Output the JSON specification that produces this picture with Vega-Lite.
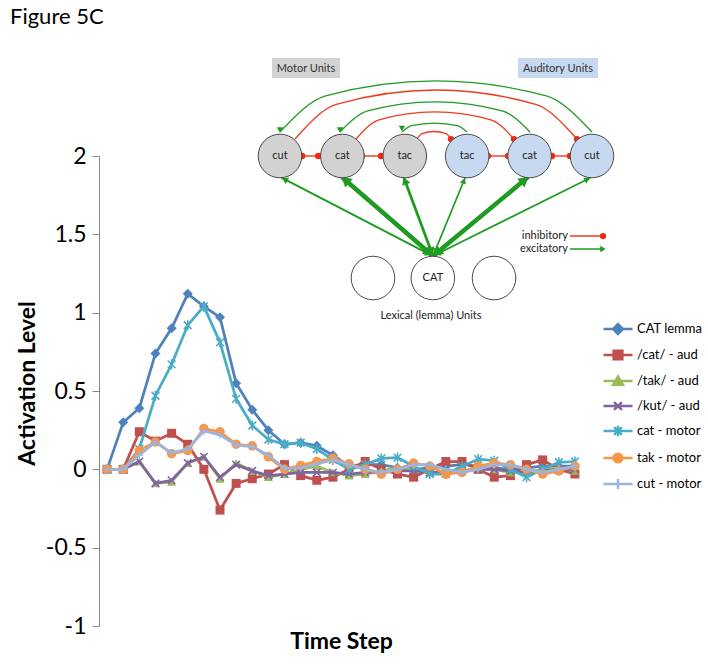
{
  "$schema": "https://vega.github.io/schema/vega-lite/v6.json",
  "width": 484,
  "height": 470,
  "autosize": {"type": "none"},
  "padding": {"left": 99, "top": 156, "right": 125, "bottom": 44},
  "title": {"text": "Figure 5C", "anchor": "start", "frame": "group", "font": "Lato", "fontSize": 22, "fontWeight": "normal", "color": "#000000", "dx": -89, "dy": -25, "offset": 4},
  "config": {"view": {"stroke": null}, "font": "Lato"},
  "resolve": {"scale": {"x": "independent", "y": "independent"}},
  "layer": [
    {
      "data": {"values": [
        {"series":"CAT lemma","step":1,"value":0},{"series":"CAT lemma","step":2,"value":0.30},{"series":"CAT lemma","step":3,"value":0.39},{"series":"CAT lemma","step":4,"value":0.74},{"series":"CAT lemma","step":5,"value":0.90},{"series":"CAT lemma","step":6,"value":1.12},{"series":"CAT lemma","step":7,"value":1.04},{"series":"CAT lemma","step":8,"value":0.97},{"series":"CAT lemma","step":9,"value":0.55},{"series":"CAT lemma","step":10,"value":0.38},{"series":"CAT lemma","step":11,"value":0.25},{"series":"CAT lemma","step":12,"value":0.16},{"series":"CAT lemma","step":13,"value":0.17},{"series":"CAT lemma","step":14,"value":0.15},{"series":"CAT lemma","step":15,"value":0.09},{"series":"CAT lemma","step":16,"value":0.02},{"series":"CAT lemma","step":17,"value":0.03},{"series":"CAT lemma","step":18,"value":0.03},{"series":"CAT lemma","step":19,"value":0.01},{"series":"CAT lemma","step":20,"value":0.0},{"series":"CAT lemma","step":21,"value":0.01},{"series":"CAT lemma","step":22,"value":0.02},{"series":"CAT lemma","step":23,"value":0.03},{"series":"CAT lemma","step":24,"value":0.02},{"series":"CAT lemma","step":25,"value":0.01},{"series":"CAT lemma","step":26,"value":0.0},{"series":"CAT lemma","step":27,"value":0.01},{"series":"CAT lemma","step":28,"value":0.02},{"series":"CAT lemma","step":29,"value":0.02},{"series":"CAT lemma","step":30,"value":0.02},
        {"series":"/cat/ - aud","step":1,"value":0},{"series":"/cat/ - aud","step":2,"value":0},{"series":"/cat/ - aud","step":3,"value":0.24},{"series":"/cat/ - aud","step":4,"value":0.18},{"series":"/cat/ - aud","step":5,"value":0.23},{"series":"/cat/ - aud","step":6,"value":0.16},{"series":"/cat/ - aud","step":7,"value":0.0},{"series":"/cat/ - aud","step":8,"value":-0.26},{"series":"/cat/ - aud","step":9,"value":-0.09},{"series":"/cat/ - aud","step":10,"value":-0.06},{"series":"/cat/ - aud","step":11,"value":-0.03},{"series":"/cat/ - aud","step":12,"value":0.03},{"series":"/cat/ - aud","step":13,"value":-0.04},{"series":"/cat/ - aud","step":14,"value":-0.07},{"series":"/cat/ - aud","step":15,"value":-0.05},{"series":"/cat/ - aud","step":16,"value":0.0},{"series":"/cat/ - aud","step":17,"value":0.05},{"series":"/cat/ - aud","step":18,"value":0.0},{"series":"/cat/ - aud","step":19,"value":-0.03},{"series":"/cat/ - aud","step":20,"value":-0.05},{"series":"/cat/ - aud","step":21,"value":0.0},{"series":"/cat/ - aud","step":22,"value":0.05},{"series":"/cat/ - aud","step":23,"value":0.05},{"series":"/cat/ - aud","step":24,"value":0.0},{"series":"/cat/ - aud","step":25,"value":-0.05},{"series":"/cat/ - aud","step":26,"value":-0.04},{"series":"/cat/ - aud","step":27,"value":0.03},{"series":"/cat/ - aud","step":28,"value":0.06},{"series":"/cat/ - aud","step":29,"value":0.0},{"series":"/cat/ - aud","step":30,"value":-0.03},
        {"series":"/tak/ - aud","step":1,"value":0},{"series":"/tak/ - aud","step":2,"value":0},{"series":"/tak/ - aud","step":3,"value":0.05},{"series":"/tak/ - aud","step":4,"value":-0.09},{"series":"/tak/ - aud","step":5,"value":-0.08},{"series":"/tak/ - aud","step":6,"value":0.04},{"series":"/tak/ - aud","step":7,"value":0.08},{"series":"/tak/ - aud","step":8,"value":-0.06},{"series":"/tak/ - aud","step":9,"value":0.04},{"series":"/tak/ - aud","step":10,"value":-0.01},{"series":"/tak/ - aud","step":11,"value":-0.05},{"series":"/tak/ - aud","step":12,"value":-0.03},{"series":"/tak/ - aud","step":13,"value":0.0},{"series":"/tak/ - aud","step":14,"value":0.02},{"series":"/tak/ - aud","step":15,"value":-0.02},{"series":"/tak/ - aud","step":16,"value":-0.04},{"series":"/tak/ - aud","step":17,"value":-0.03},{"series":"/tak/ - aud","step":18,"value":-0.01},{"series":"/tak/ - aud","step":19,"value":0.01},{"series":"/tak/ - aud","step":20,"value":0.0},{"series":"/tak/ - aud","step":21,"value":-0.02},{"series":"/tak/ - aud","step":22,"value":-0.03},{"series":"/tak/ - aud","step":23,"value":-0.01},{"series":"/tak/ - aud","step":24,"value":0.01},{"series":"/tak/ - aud","step":25,"value":0.0},{"series":"/tak/ - aud","step":26,"value":-0.02},{"series":"/tak/ - aud","step":27,"value":-0.02},{"series":"/tak/ - aud","step":28,"value":0.0},{"series":"/tak/ - aud","step":29,"value":0.01},{"series":"/tak/ - aud","step":30,"value":-0.01},
        {"series":"/kut/ - aud","step":1,"value":0},{"series":"/kut/ - aud","step":2,"value":0},{"series":"/kut/ - aud","step":3,"value":0.05},{"series":"/kut/ - aud","step":4,"value":-0.09},{"series":"/kut/ - aud","step":5,"value":-0.07},{"series":"/kut/ - aud","step":6,"value":0.04},{"series":"/kut/ - aud","step":7,"value":0.08},{"series":"/kut/ - aud","step":8,"value":-0.05},{"series":"/kut/ - aud","step":9,"value":0.03},{"series":"/kut/ - aud","step":10,"value":-0.01},{"series":"/kut/ - aud","step":11,"value":-0.04},{"series":"/kut/ - aud","step":12,"value":-0.03},{"series":"/kut/ - aud","step":13,"value":-0.02},{"series":"/kut/ - aud","step":14,"value":-0.02},{"series":"/kut/ - aud","step":15,"value":-0.02},{"series":"/kut/ - aud","step":16,"value":-0.03},{"series":"/kut/ - aud","step":17,"value":-0.02},{"series":"/kut/ - aud","step":18,"value":-0.02},{"series":"/kut/ - aud","step":19,"value":-0.01},{"series":"/kut/ - aud","step":20,"value":-0.01},{"series":"/kut/ - aud","step":21,"value":-0.02},{"series":"/kut/ - aud","step":22,"value":-0.02},{"series":"/kut/ - aud","step":23,"value":-0.01},{"series":"/kut/ - aud","step":24,"value":0.0},{"series":"/kut/ - aud","step":25,"value":0.0},{"series":"/kut/ - aud","step":26,"value":-0.01},{"series":"/kut/ - aud","step":27,"value":-0.02},{"series":"/kut/ - aud","step":28,"value":-0.01},{"series":"/kut/ - aud","step":29,"value":0.0},{"series":"/kut/ - aud","step":30,"value":0.0},
        {"series":"cat - motor","step":1,"value":0},{"series":"cat - motor","step":2,"value":0},{"series":"cat - motor","step":3,"value":0.13},{"series":"cat - motor","step":4,"value":0.47},{"series":"cat - motor","step":5,"value":0.67},{"series":"cat - motor","step":6,"value":0.92},{"series":"cat - motor","step":7,"value":1.04},{"series":"cat - motor","step":8,"value":0.81},{"series":"cat - motor","step":9,"value":0.45},{"series":"cat - motor","step":10,"value":0.28},{"series":"cat - motor","step":11,"value":0.19},{"series":"cat - motor","step":12,"value":0.16},{"series":"cat - motor","step":13,"value":0.17},{"series":"cat - motor","step":14,"value":0.13},{"series":"cat - motor","step":15,"value":0.06},{"series":"cat - motor","step":16,"value":0.0},{"series":"cat - motor","step":17,"value":0.03},{"series":"cat - motor","step":18,"value":0.07},{"series":"cat - motor","step":19,"value":0.075},{"series":"cat - motor","step":20,"value":0.02},{"series":"cat - motor","step":21,"value":-0.03},{"series":"cat - motor","step":22,"value":-0.03},{"series":"cat - motor","step":23,"value":0.02},{"series":"cat - motor","step":24,"value":0.065},{"series":"cat - motor","step":25,"value":0.055},{"series":"cat - motor","step":26,"value":0.0},{"series":"cat - motor","step":27,"value":-0.05},{"series":"cat - motor","step":28,"value":0.0},{"series":"cat - motor","step":29,"value":0.045},{"series":"cat - motor","step":30,"value":0.05},
        {"series":"tak - motor","step":1,"value":0},{"series":"tak - motor","step":2,"value":0},{"series":"tak - motor","step":3,"value":0.12},{"series":"tak - motor","step":4,"value":0.175},{"series":"tak - motor","step":5,"value":0.10},{"series":"tak - motor","step":6,"value":0.12},{"series":"tak - motor","step":7,"value":0.26},{"series":"tak - motor","step":8,"value":0.24},{"series":"tak - motor","step":9,"value":0.16},{"series":"tak - motor","step":10,"value":0.15},{"series":"tak - motor","step":11,"value":0.08},{"series":"tak - motor","step":12,"value":0.0},{"series":"tak - motor","step":13,"value":0.025},{"series":"tak - motor","step":14,"value":0.05},{"series":"tak - motor","step":15,"value":0.07},{"series":"tak - motor","step":16,"value":0.035},{"series":"tak - motor","step":17,"value":0.0},{"series":"tak - motor","step":18,"value":-0.03},{"series":"tak - motor","step":19,"value":0.0},{"series":"tak - motor","step":20,"value":0.04},{"series":"tak - motor","step":21,"value":0.02},{"series":"tak - motor","step":22,"value":-0.03},{"series":"tak - motor","step":23,"value":-0.02},{"series":"tak - motor","step":24,"value":0.02},{"series":"tak - motor","step":25,"value":0.04},{"series":"tak - motor","step":26,"value":0.03},{"series":"tak - motor","step":27,"value":0.0},{"series":"tak - motor","step":28,"value":-0.03},{"series":"tak - motor","step":29,"value":-0.01},{"series":"tak - motor","step":30,"value":0.02},
        {"series":"cut - motor","step":1,"value":0},{"series":"cut - motor","step":2,"value":0},{"series":"cut - motor","step":3,"value":0.09},{"series":"cut - motor","step":4,"value":0.175},{"series":"cut - motor","step":5,"value":0.105},{"series":"cut - motor","step":6,"value":0.13},{"series":"cut - motor","step":7,"value":0.245},{"series":"cut - motor","step":8,"value":0.22},{"series":"cut - motor","step":9,"value":0.155},{"series":"cut - motor","step":10,"value":0.145},{"series":"cut - motor","step":11,"value":0.09},{"series":"cut - motor","step":12,"value":0.005},{"series":"cut - motor","step":13,"value":0.01},{"series":"cut - motor","step":14,"value":0.035},{"series":"cut - motor","step":15,"value":0.06},{"series":"cut - motor","step":16,"value":0.03},{"series":"cut - motor","step":17,"value":0.0},{"series":"cut - motor","step":18,"value":-0.02},{"series":"cut - motor","step":19,"value":0.0},{"series":"cut - motor","step":20,"value":0.03},{"series":"cut - motor","step":21,"value":0.03},{"series":"cut - motor","step":22,"value":0.0},{"series":"cut - motor","step":23,"value":-0.02},{"series":"cut - motor","step":24,"value":0.0},{"series":"cut - motor","step":25,"value":0.03},{"series":"cut - motor","step":26,"value":0.03},{"series":"cut - motor","step":27,"value":0.0},{"series":"cut - motor","step":28,"value":-0.02},{"series":"cut - motor","step":29,"value":0.0},{"series":"cut - motor","step":30,"value":0.02}
      ]},
      "encoding": {
        "x": {"field": "step", "type": "quantitative", "scale": {"domain": [0.5, 30.5], "nice": false, "zero": false},
              "axis": {"title": "Time Step", "labels": false, "ticks": false, "domain": false, "grid": false, "titleFont": "Lato", "titleFontSize": 23, "titleFontWeight": "bold", "titleColor": "#000000", "titlePadding": 4}},
        "y": {"field": "value", "type": "quantitative", "scale": {"domain": [-1, 2], "nice": false, "zero": false},
              "axis": {"title": "Activation Level", "values": [-1, -0.5, 0, 0.5, 1, 1.5, 2], "labelExpr": "'' + datum.value", "grid": false, "domainColor": "#868686", "tickColor": "#868686", "tickSize": 7, "labelFont": "Lato", "labelFontSize": 23, "labelColor": "#000000", "labelPadding": 6, "titleFont": "Lato", "titleFontSize": 23, "titleFontWeight": "bold", "titleColor": "#000000", "titlePadding": 6, "titleY": 227}},
        "color": {"field": "series", "type": "nominal", "legend": null,
                  "scale": {"domain": ["CAT lemma", "/cat/ - aud", "/tak/ - aud", "/kut/ - aud", "cat - motor", "tak - motor", "cut - motor"], "range": ["#4F81BD", "#C0504D", "#9BBB59", "#8064A2", "#4BACC6", "#F79646", "#9DB4DC"]}}
      },
      "layer": [
        {
          "data": {"values": [{}]},
          "mark": {"type": "rule", "color": "#868686", "strokeWidth": 1},
          "encoding": {"y": {"datum": 0, "type": "quantitative"}, "x": null, "color": null}
        },
        {
          "transform": [{"filter": {"field": "series", "equal": "CAT lemma"}}],
          "mark": {"type": "line", "strokeWidth": 2.75, "strokeJoin": "round", "strokeCap": "round"},
          "encoding": {
            "color": {"field": "series", "type": "nominal",
                      "legend": {"title": null, "orient": "none", "legendX": 503, "legendY": 157, "labelFont": "Lato", "labelFontSize": 13, "labelColor": "#000000", "symbolSize": 841, "labelOffset": 3, "rowPadding": 0,
                        "encode": {"symbols": {"update": {
                          "shape": {"signal": "['M-1,0H1M0,-0.34L0.34,0L0,0.34L-0.34,0Z','M-1,0H1M-0.3,-0.3H0.3V0.3H-0.3Z','M-1,0H1M0,-0.32L0.34,0.26L-0.34,0.26Z','M-1,0H1M-0.27,-0.27L0.27,0.27M-0.27,0.27L0.27,-0.27','M-1,0H1M-0.27,-0.27L0.27,0.27M-0.27,0.27L0.27,-0.27M0,-0.36V0.36','M-1,0H1M-0.3,0A0.3,0.3,0,1,0,0.3,0A0.3,0.3,0,1,0,-0.3,0Z','M-1,0H1M0,-0.34V0.34'][indexof(['CAT lemma','/cat/ - aud','/tak/ - aud','/kut/ - aud','cat - motor','tak - motor','cut - motor'], datum.value)]"},
                          "fill": {"scale": "color", "field": "value"},
                          "stroke": {"scale": "color", "field": "value"},
                          "strokeWidth": {"value": 2.5},
                          "opacity": {"value": 1}
                        }}}}}
          }
        },
        {
          "transform": [{"filter": {"field": "series", "equal": "CAT lemma"}}],
          "mark": {"type": "point", "shape": "diamond", "filled": true, "opacity": 1, "size": 100}
        },
        {
          "transform": [{"filter": {"field": "series", "equal": "/cat/ - aud"}}],
          "mark": {"type": "line", "strokeWidth": 2.75, "strokeJoin": "round", "strokeCap": "round"}
        },
        {
          "transform": [{"filter": {"field": "series", "equal": "/cat/ - aud"}}],
          "mark": {"type": "point", "shape": "square", "filled": true, "opacity": 1, "size": 81}
        },
        {
          "transform": [{"filter": {"field": "series", "equal": "/tak/ - aud"}}],
          "mark": {"type": "line", "strokeWidth": 2.75, "strokeJoin": "round", "strokeCap": "round"}
        },
        {
          "transform": [{"filter": {"field": "series", "equal": "/tak/ - aud"}}],
          "mark": {"type": "point", "shape": "triangle-up", "filled": true, "opacity": 1, "size": 81}
        },
        {
          "transform": [{"filter": {"field": "series", "equal": "/kut/ - aud"}}],
          "mark": {"type": "line", "strokeWidth": 2.75, "strokeJoin": "round", "strokeCap": "round"}
        },
        {
          "transform": [{"filter": {"field": "series", "equal": "/kut/ - aud"}}],
          "mark": {"type": "point", "shape": "M-1,-1L1,1M-1,1L1,-1", "filled": false, "opacity": 1, "size": 56, "strokeWidth": 1.6}
        },
        {
          "transform": [{"filter": {"field": "series", "equal": "cat - motor"}}],
          "mark": {"type": "line", "strokeWidth": 2.75, "strokeJoin": "round", "strokeCap": "round"}
        },
        {
          "transform": [{"filter": {"field": "series", "equal": "cat - motor"}}],
          "mark": {"type": "point", "shape": "M-1,-1L1,1M-1,1L1,-1M0,-1.3V1.3", "filled": false, "opacity": 1, "size": 60, "strokeWidth": 1.6}
        },
        {
          "transform": [{"filter": {"field": "series", "equal": "tak - motor"}}],
          "mark": {"type": "line", "strokeWidth": 2.75, "strokeJoin": "round", "strokeCap": "round"}
        },
        {
          "transform": [{"filter": {"field": "series", "equal": "tak - motor"}}],
          "mark": {"type": "point", "shape": "circle", "filled": true, "opacity": 1, "size": 90}
        },
        {
          "transform": [{"filter": {"field": "series", "equal": "cut - motor"}}],
          "mark": {"type": "line", "strokeWidth": 2.75, "strokeJoin": "round", "strokeCap": "round"}
        },
        {
          "transform": [{"filter": {"field": "series", "equal": "cut - motor"}}],
          "mark": {"type": "point", "shape": "M-1,0H1M0,-1V1", "filled": false, "opacity": 1, "size": 64, "strokeWidth": 1.2}
        }
      ]
    },
    {
      "layer": [
        {
          "data": {"values": [
            {"name": "Motor Units", "group": "motor", "u1": 0.872, "u2": 1.962, "uc": 1.417, "v1": 1.803, "v2": 1.639, "vc": 1.713},
            {"name": "Auditory Units", "group": "auditory", "u1": 4.814, "u2": 6.096, "uc": 5.455, "v1": 1.803, "v2": 1.639, "vc": 1.713}
          ]},
          "layer": [
            {
              "mark": {"type": "rect"},
              "encoding": {
                "x": {"field": "u1", "type": "quantitative", "scale": {"domain": [-1.9, 5.856], "nice": false, "zero": false}, "axis": null},
                "x2": {"field": "u2"},
                "y": {"field": "v1", "type": "quantitative", "scale": {"domain": [-2.852, 1], "nice": false, "zero": false}, "axis": null},
                "y2": {"field": "v2"},
                "fill": {"field": "group", "type": "nominal", "legend": null, "scale": {"domain": ["motor", "auditory", "lexical"], "range": ["#d2d2d2", "#c6d9f1", "#ffffff"]}}
              }
            },
            {
              "mark": {"type": "text", "font": "Lato", "fontSize": 11, "color": "#333333", "align": "center", "baseline": "middle"},
              "encoding": {
                "x": {"field": "uc", "type": "quantitative", "axis": null},
                "y": {"field": "vc", "type": "quantitative", "axis": null},
                "text": {"field": "name"}
              }
            }
          ]
        },
        {
          "data": {"values": [
            {"arc": "G1", "kind": "excitatory", "k": 1, "u": 1.0, "v": 1.197}, {"arc": "G1", "kind": "excitatory", "k": 2, "u": 1.732, "v": 1.493}, {"arc": "G1", "kind": "excitatory", "k": 3, "u": 3.5, "v": 1.615}, {"arc": "G1", "kind": "excitatory", "k": 4, "u": 5.268, "v": 1.493}, {"arc": "G1", "kind": "excitatory", "k": 5, "u": 6.0, "v": 1.197},
            {"arc": "R1", "kind": "inhibitory", "k": 1, "u": 1.24, "v": 1.139}, {"arc": "R1", "kind": "inhibitory", "k": 2, "u": 1.902, "v": 1.423}, {"arc": "R1", "kind": "inhibitory", "k": 3, "u": 3.5, "v": 1.541}, {"arc": "R1", "kind": "inhibitory", "k": 4, "u": 5.098, "v": 1.423}, {"arc": "R1", "kind": "inhibitory", "k": 5, "u": 5.76, "v": 1.139},
            {"arc": "G2", "kind": "excitatory", "k": 1, "u": 1.962, "v": 1.197}, {"arc": "G2", "kind": "excitatory", "k": 2, "u": 2.407, "v": 1.37}, {"arc": "G2", "kind": "excitatory", "k": 3, "u": 3.484, "v": 1.443}, {"arc": "G2", "kind": "excitatory", "k": 4, "u": 4.561, "v": 1.37}, {"arc": "G2", "kind": "excitatory", "k": 5, "u": 5.006, "v": 1.197},
            {"arc": "R2", "kind": "inhibitory", "k": 1, "u": 2.218, "v": 1.139}, {"arc": "R2", "kind": "inhibitory", "k": 2, "u": 2.588, "v": 1.296}, {"arc": "R2", "kind": "inhibitory", "k": 3, "u": 3.484, "v": 1.361}, {"arc": "R2", "kind": "inhibitory", "k": 4, "u": 4.38, "v": 1.296}, {"arc": "R2", "kind": "inhibitory", "k": 5, "u": 4.75, "v": 1.139},
            {"arc": "G3", "kind": "excitatory", "k": 1, "u": 2.955, "v": 1.197}, {"arc": "G3", "kind": "excitatory", "k": 2, "u": 3.107, "v": 1.249}, {"arc": "G3", "kind": "excitatory", "k": 3, "u": 3.476, "v": 1.27}, {"arc": "G3", "kind": "excitatory", "k": 4, "u": 3.845, "v": 1.249}, {"arc": "G3", "kind": "excitatory", "k": 5, "u": 3.997, "v": 1.197},
            {"arc": "R3", "kind": "inhibitory", "k": 1, "u": 3.196, "v": 1.139}, {"arc": "R3", "kind": "inhibitory", "k": 2, "u": 3.276, "v": 1.183}, {"arc": "R3", "kind": "inhibitory", "k": 3, "u": 3.468, "v": 1.201}, {"arc": "R3", "kind": "inhibitory", "k": 4, "u": 3.66, "v": 1.183}, {"arc": "R3", "kind": "inhibitory", "k": 5, "u": 3.74, "v": 1.139}
          ]},
          "mark": {"type": "line", "interpolate": "monotone", "strokeWidth": 1.3},
          "encoding": {
            "x": {"field": "u", "type": "quantitative", "axis": null},
            "y": {"field": "v", "type": "quantitative", "axis": null},
            "detail": {"field": "arc"},
            "order": {"field": "k"},
            "stroke": {"field": "kind", "type": "nominal", "legend": null, "scale": {"domain": ["excitatory", "inhibitory"], "range": ["#1f9b22", "#f2391b"]}}
          }
        },
        {
          "data": {"values": [
            {"kind": "inhibitory", "u1": 1.357, "u2": 1.612, "v": 1.0},
            {"kind": "inhibitory", "u1": 2.314, "u2": 2.619, "v": 1.0},
            {"kind": "inhibitory", "u1": 4.333, "u2": 4.654, "v": 1.0},
            {"kind": "inhibitory", "u1": 5.359, "u2": 5.647, "v": 1.0},
            {"kind": "inhibitory", "u1": 5.647, "u2": 6.15, "v": 0.344},
            {"kind": "excitatory", "u1": 5.647, "u2": 6.15, "v": 0.238}
          ]},
          "mark": {"type": "rule", "strokeWidth": 1.4},
          "encoding": {
            "x": {"field": "u1", "type": "quantitative", "axis": null},
            "x2": {"field": "u2"},
            "y": {"field": "v", "type": "quantitative", "axis": null},
            "stroke": {"field": "kind", "type": "nominal", "legend": null}
          }
        },
        {
          "data": {"values": [
            {"kind": "excitatory", "target": "motor cut", "weight": 0.3, "u1": 3.452, "v1": 0.18, "u2": 1.032, "v2": 0.82, "hu": 1.075, "hv": 0.808, "heading": 297.3, "tu": 3.381, "tv": 0.199, "back": 117.3},
            {"kind": "excitatory", "target": "motor cat", "weight": 1.0, "u1": 3.452, "v1": 0.18, "u2": 2.01, "v2": 0.82, "hu": 2.046, "hv": 0.803, "heading": 310.9, "tu": 3.391, "tv": 0.207, "back": 130.9},
            {"kind": "excitatory", "target": "motor tac", "weight": 0.5, "u1": 3.452, "v1": 0.18, "u2": 2.987, "v2": 0.82, "hu": 3.003, "hv": 0.797, "heading": 339.6, "tu": 3.425, "tv": 0.219, "back": 159.6},
            {"kind": "excitatory", "target": "auditory tac", "weight": 0.2, "u1": 3.452, "v1": 0.18, "u2": 3.965, "v2": 0.82, "hu": 3.947, "hv": 0.797, "heading": 22.3, "tu": 3.483, "tv": 0.219, "back": 202.3},
            {"kind": "excitatory", "target": "auditory cat", "weight": 1.0, "u1": 3.452, "v1": 0.18, "u2": 4.958, "v2": 0.82, "hu": 4.921, "hv": 0.804, "heading": 50.3, "tu": 3.514, "tv": 0.207, "back": 230.3},
            {"kind": "excitatory", "target": "auditory cut", "weight": 0.2, "u1": 3.452, "v1": 0.18, "u2": 5.968, "v2": 0.82, "hu": 5.925, "hv": 0.809, "heading": 63.6, "tu": 3.524, "tv": 0.198, "back": 243.6}
          ]},
          "layer": [
            {
              "mark": {"type": "rule", "strokeCap": "round"},
              "encoding": {
                "x": {"field": "u1", "type": "quantitative", "axis": null},
                "y": {"field": "v1", "type": "quantitative", "axis": null},
                "x2": {"field": "u2"},
                "y2": {"field": "v2"},
                "stroke": {"field": "kind", "type": "nominal", "legend": null},
                "strokeWidth": {"field": "weight", "type": "quantitative", "legend": null, "scale": {"domain": [0, 1], "range": [1, 4.5]}}
              }
            },
            {
              "mark": {"type": "point", "shape": "triangle-up", "filled": true, "color": "#1f9b22", "opacity": 1},
              "encoding": {
                "x": {"field": "hu", "type": "quantitative", "axis": null},
                "y": {"field": "hv", "type": "quantitative", "axis": null},
                "angle": {"field": "heading", "type": "quantitative", "scale": null},
                "size": {"field": "weight", "type": "quantitative", "legend": null, "scale": {"domain": [0, 1], "range": [20, 130]}}
              }
            },
            {
              "mark": {"type": "point", "shape": "triangle-up", "filled": true, "color": "#1f9b22", "opacity": 1},
              "encoding": {
                "x": {"field": "tu", "type": "quantitative", "axis": null},
                "y": {"field": "tv", "type": "quantitative", "axis": null},
                "angle": {"field": "back", "type": "quantitative", "scale": null},
                "size": {"field": "weight", "type": "quantitative", "legend": null}
              }
            }
          ]
        },
        {
          "data": {"values": [
            {"u": 5.76, "v": 1.139}, {"u": 4.75, "v": 1.139}, {"u": 3.74, "v": 1.139},
            {"u": 1.357, "v": 1.0}, {"u": 1.612, "v": 1.0}, {"u": 2.314, "v": 1.0}, {"u": 2.619, "v": 1.0},
            {"u": 4.333, "v": 1.0}, {"u": 4.654, "v": 1.0}, {"u": 5.359, "v": 1.0}, {"u": 5.647, "v": 1.0},
            {"u": 6.176, "v": 0.344}
          ]},
          "mark": {"type": "point", "shape": "circle", "filled": true, "color": "#f2280f", "opacity": 1, "size": 40},
          "encoding": {
            "x": {"field": "u", "type": "quantitative", "axis": null},
            "y": {"field": "v", "type": "quantitative", "axis": null}
          }
        },
        {
          "data": {"values": [
            {"u": 1.0, "v": 1.213}, {"u": 1.962, "v": 1.213}, {"u": 2.955, "v": 1.225}
          ]},
          "mark": {"type": "point", "shape": "triangle-down", "filled": true, "color": "#1f9b22", "opacity": 1, "size": 40},
          "encoding": {
            "x": {"field": "u", "type": "quantitative", "axis": null},
            "y": {"field": "v", "type": "quantitative", "axis": null}
          }
        },
        {
          "data": {"values": [{"u": 6.176, "v": 0.238}]},
          "mark": {"type": "point", "shape": "triangle-right", "filled": true, "color": "#1f9b22", "opacity": 1, "size": 40},
          "encoding": {
            "x": {"field": "u", "type": "quantitative", "axis": null},
            "y": {"field": "v", "type": "quantitative", "axis": null}
          }
        },
        {
          "data": {"values": [
            {"name": "cut", "group": "motor", "u": 1, "v": 1},
            {"name": "cat", "group": "motor", "u": 2, "v": 1},
            {"name": "tac", "group": "motor", "u": 3, "v": 1},
            {"name": "tac", "group": "auditory", "u": 4, "v": 1},
            {"name": "cat", "group": "auditory", "u": 5, "v": 1},
            {"name": "cut", "group": "auditory", "u": 6, "v": 1},
            {"name": "", "group": "lexical", "u": 2.49, "v": 0},
            {"name": "CAT", "group": "lexical", "u": 3.45, "v": 0},
            {"name": "", "group": "lexical", "u": 4.43, "v": 0}
          ]},
          "layer": [
            {
              "mark": {"type": "point", "shape": "circle", "filled": true, "opacity": 1, "size": 1900, "stroke": "#4a4a4a", "strokeWidth": 1},
              "encoding": {
                "x": {"field": "u", "type": "quantitative", "axis": null},
                "y": {"field": "v", "type": "quantitative", "axis": null},
                "fill": {"field": "group", "type": "nominal", "legend": null}
              }
            },
            {
              "mark": {"type": "text", "font": "Lato", "fontSize": 11, "color": "#222222", "align": "center", "baseline": "middle"},
              "encoding": {
                "x": {"field": "u", "type": "quantitative", "axis": null},
                "y": {"field": "v", "type": "quantitative", "axis": null},
                "text": {"field": "name"}
              }
            }
          ]
        },
        {
          "data": {"values": [
            {"label": "inhibitory", "u": 5.615, "v": 0.344},
            {"label": "excitatory", "u": 5.615, "v": 0.238}
          ]},
          "mark": {"type": "text", "font": "Lato", "fontSize": 11, "color": "#222222", "align": "right", "baseline": "middle"},
          "encoding": {
            "x": {"field": "u", "type": "quantitative", "axis": null},
            "y": {"field": "v", "type": "quantitative", "axis": null},
            "text": {"field": "label"}
          }
        },
        {
          "data": {"values": [{"label": "Lexical (lemma) Units", "u": 3.42, "v": -0.311}]},
          "mark": {"type": "text", "font": "Lato", "fontSize": 11, "color": "#222222", "align": "center", "baseline": "middle"},
          "encoding": {
            "x": {"field": "u", "type": "quantitative", "axis": null},
            "y": {"field": "v", "type": "quantitative", "axis": null},
            "text": {"field": "label"}
          }
        }
      ]
    }
  ]
}
